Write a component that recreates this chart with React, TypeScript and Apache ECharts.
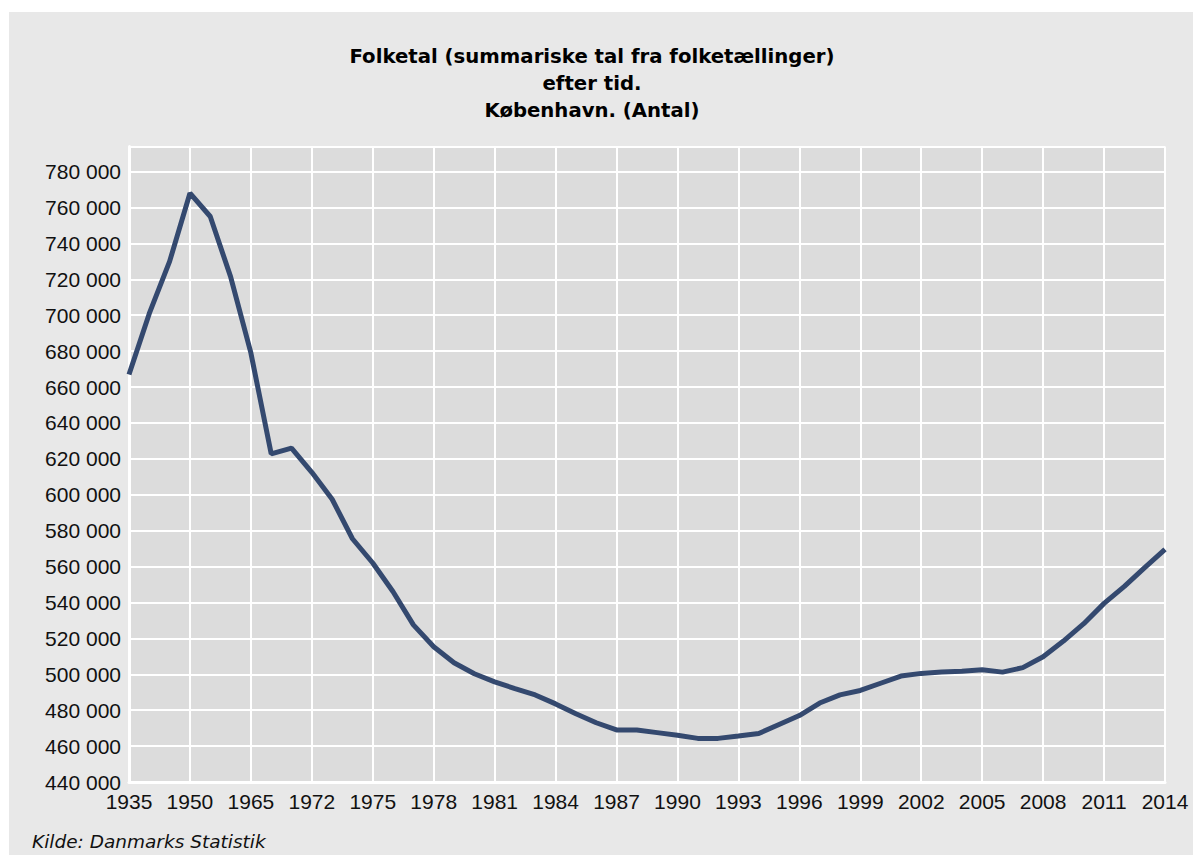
import React, { useEffect, useRef } from "react";
import * as echarts from "echarts";

const years: string[] = [
  "1935", "1940", "1945", "1950", "1955", "1960", "1965", "1970",
  "1971", "1972", "1973", "1974", "1975", "1976", "1977", "1978", "1979", "1980",
  "1981", "1982", "1983", "1984", "1985", "1986", "1987", "1988", "1989", "1990",
  "1991", "1992", "1993", "1994", "1995", "1996", "1997", "1998", "1999", "2000",
  "2001", "2002", "2003", "2004", "2005", "2006", "2007", "2008", "2009", "2010",
  "2011", "2012", "2013", "2014",
];

const population: number[] = [
  667000, 701000, 730000, 768000, 755000, 721500, 679000, 622800,
  626000, 612500, 597500, 575500, 562000, 546000, 527500, 515300, 506400, 500300,
  495800, 492000, 488500, 483500, 478000, 473000, 469000, 469000, 467500, 466000,
  464300, 464300, 465600, 467000, 472000, 477000, 484000, 488500, 491000, 495000,
  499000, 500500, 501300, 501700, 502500, 501200, 503700, 509800, 518500, 528200,
  539500, 549000, 559400, 569600,
];

const titleLines: string[] = [
  "Folketal (summariske tal fra folketællinger)",
  "efter tid.",
  "København. (Antal)",
];
const sourceText = "Kilde: Danmarks Statistik";

function fmt(v: number): string {
  const s = Math.round(v).toString();
  return s.replace(/\B(?=(\d{3})+(?!\d))/g, " ");
}

export default function App() {
  const ref = useRef<HTMLDivElement>(null);
  useEffect(() => {
    if (!ref.current) return;
    const chart = echarts.init(ref.current, null, { renderer: "svg" });
    chart.setOption({
      animation: false,
      backgroundColor: "#e8e8e8",
      title: {
        text: titleLines.join("\n"),
        left: 583,
        top: 31,
        textAlign: "center",
        padding: 0,
        textStyle: {
          fontFamily: "DejaVu Sans",
          fontWeight: "bold",
          fontSize: 19.7,
          lineHeight: 27,
          color: "#000",
        },
      },
      graphic: [
        {
          type: "text",
          x: 23,
          y: 829,
          style: {
            text: sourceText,
            fontFamily: "DejaVu Sans",
            fontStyle: "italic",
            fontSize: 18.5,
            fill: "#111",
            textVerticalAlign: "middle",
          },
        },
      ],
      grid: {
        left: 120,
        top: 134.5,
        right: 28,
        bottom: 73,
        show: true,
        backgroundColor: "#dcdcdc",
        borderWidth: 0,
        containLabel: false,
      },
      xAxis: {
        type: "category",
        data: years,
        boundaryGap: false,
        axisLine: { show: true, lineStyle: { color: "#ffffff", width: 3 } },
        axisTick: { show: false },
        axisLabel: {
          interval: 2,
          margin: 9,
          fontFamily: "Liberation Sans",
          fontSize: 21,
          color: "#111",
        },
        splitLine: {
          show: true,
          interval: 2,
          lineStyle: { color: "#ffffff", width: 2 },
        },
      },
      yAxis: {
        type: "value",
        min: 440000,
        max: 794000,
        interval: 20000,
        axisLine: { show: true, lineStyle: { color: "#ffffff", width: 3 } },
        axisTick: { show: false },
        axisLabel: {
          showMaxLabel: false,
          margin: 8,
          fontFamily: "Liberation Sans",
          fontSize: 21,
          color: "#111",
          formatter: (v: number) => fmt(v),
        },
        splitLine: { show: true, lineStyle: { color: "#ffffff", width: 2 } },
      },
      series: [
        {
          type: "line",
          data: population,
          symbol: "none",
          lineStyle: { color: "#34496f", width: 5 },
          itemStyle: { color: "#34496f" },
        },
      ],
    });
    return () => chart.dispose();
  }, []);
  return (
    <div
      style={{
        position: "absolute",
        left: 0,
        top: 0,
        width: 1193,
        height: 855,
        background: "#ffffff",
        overflow: "hidden",
      }}
    >
      <div
        ref={ref}
        style={{ position: "absolute", left: 9, top: 12, width: 1184, height: 843 }}
      />
    </div>
  );
}
